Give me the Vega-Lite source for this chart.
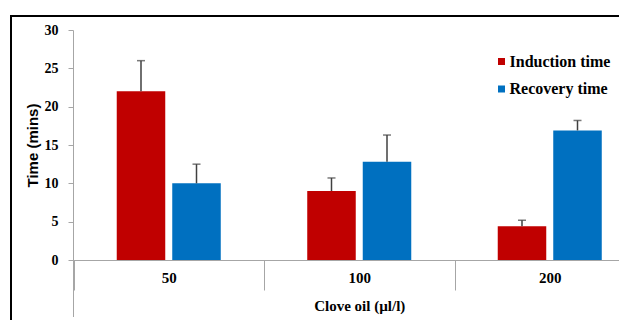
{
  "$schema": "https://vega.github.io/schema/vega-lite/v6.json",
  "width": 608,
  "height": 304,
  "autosize": {"type": "none"},
  "padding": {"left": 11, "top": 16, "right": 0, "bottom": 0},
  "background": "white",
  "config": {
    "view": {"stroke": "black", "strokeWidth": 2, "strokeDash": [608, 912, 304]},
    "axis": {
      "labelFont": "Liberation Serif",
      "labelFontWeight": "bold",
      "labelFontSize": 15,
      "labelColor": "black",
      "domainColor": "#a6a6a6",
      "tickColor": "#a6a6a6",
      "grid": false,
      "titleColor": "black"
    },
    "legend": {
      "labelFont": "Liberation Serif",
      "labelFontWeight": "bold",
      "labelFontSize": 16,
      "labelColor": "black",
      "symbolType": "square",
      "symbolSize": 49,
      "symbolStrokeWidth": 0,
      "rowPadding": 11.5,
      "labelOffset": 0,
      "padding": 0
    }
  },
  "data": {
    "values": [
      {"dose": "50", "series": "Induction time", "value": 22, "upper": 26},
      {"dose": "50", "series": "Recovery time", "value": 10, "upper": 12.5},
      {"dose": "100", "series": "Induction time", "value": 9, "upper": 10.7},
      {"dose": "100", "series": "Recovery time", "value": 12.8, "upper": 16.3},
      {"dose": "200", "series": "Induction time", "value": 4.4, "upper": 5.2},
      {"dose": "200", "series": "Recovery time", "value": 16.9, "upper": 18.2}
    ]
  },
  "encoding": {
    "x": {
      "field": "dose",
      "type": "nominal",
      "sort": ["50", "100", "200"],
      "scale": {"range": [62.5, 634], "paddingInner": 0, "paddingOuter": 0},
      "axis": {
        "title": "Clove oil (µl/l)",
        "labelAngle": 0,
        "tickBand": "extent",
        "tickSize": 30,
        "labelPadding": -19.5,
        "titleFont": "Liberation Serif",
        "titleFontSize": 15,
        "titleFontWeight": "bold",
        "titlePadding": 8,
        "offset": -60
      }
    },
    "y": {
      "field": "value",
      "type": "quantitative",
      "scale": {"domain": [0, 30], "range": [244, 14], "nice": false},
      "axis": {
        "title": "Time (mins)",
        "values": [0, 5, 10, 15, 20, 25, 30],
        "tickSize": 5,
        "labelFontSize": 14,
        "labelPadding": 10,
        "offset": -62,
        "titleFont": "Liberation Sans",
        "titleFontSize": 15,
        "titleFontWeight": "bold",
        "titlePadding": 4
      }
    }
  },
  "layer": [
    {
      "mark": {"type": "bar"},
      "encoding": {
        "xOffset": {
          "field": "series",
          "type": "nominal",
          "scale": {"paddingInner": 0.126, "paddingOuter": 0.779}
        },
        "color": {
          "field": "series",
          "type": "nominal",
          "scale": {"domain": ["Induction time", "Recovery time"], "range": ["#C00000", "#0070C0"]},
          "legend": {"title": null, "orient": "none", "legendX": 482.5, "legendY": 37.5}
        }
      }
    },
    {
      "mark": {"type": "rule", "color": "#404040", "strokeWidth": 1.5},
      "encoding": {
        "xOffset": {"field": "series", "type": "nominal"},
        "y2": {"field": "upper"}
      }
    },
    {
      "mark": {"type": "tick", "color": "#404040", "size": 8, "thickness": 1.5},
      "encoding": {
        "xOffset": {"field": "series", "type": "nominal"},
        "y": {"field": "upper", "type": "quantitative"}
      }
    },
    {
      "mark": {"type": "rule", "color": "#a6a6a6", "strokeWidth": 1},
      "encoding": {
        "x": {"datum": "50", "bandPosition": 0},
        "y": {"datum": 0},
        "y2": {"datum": -7.4}
      }
    }
  ]
}
